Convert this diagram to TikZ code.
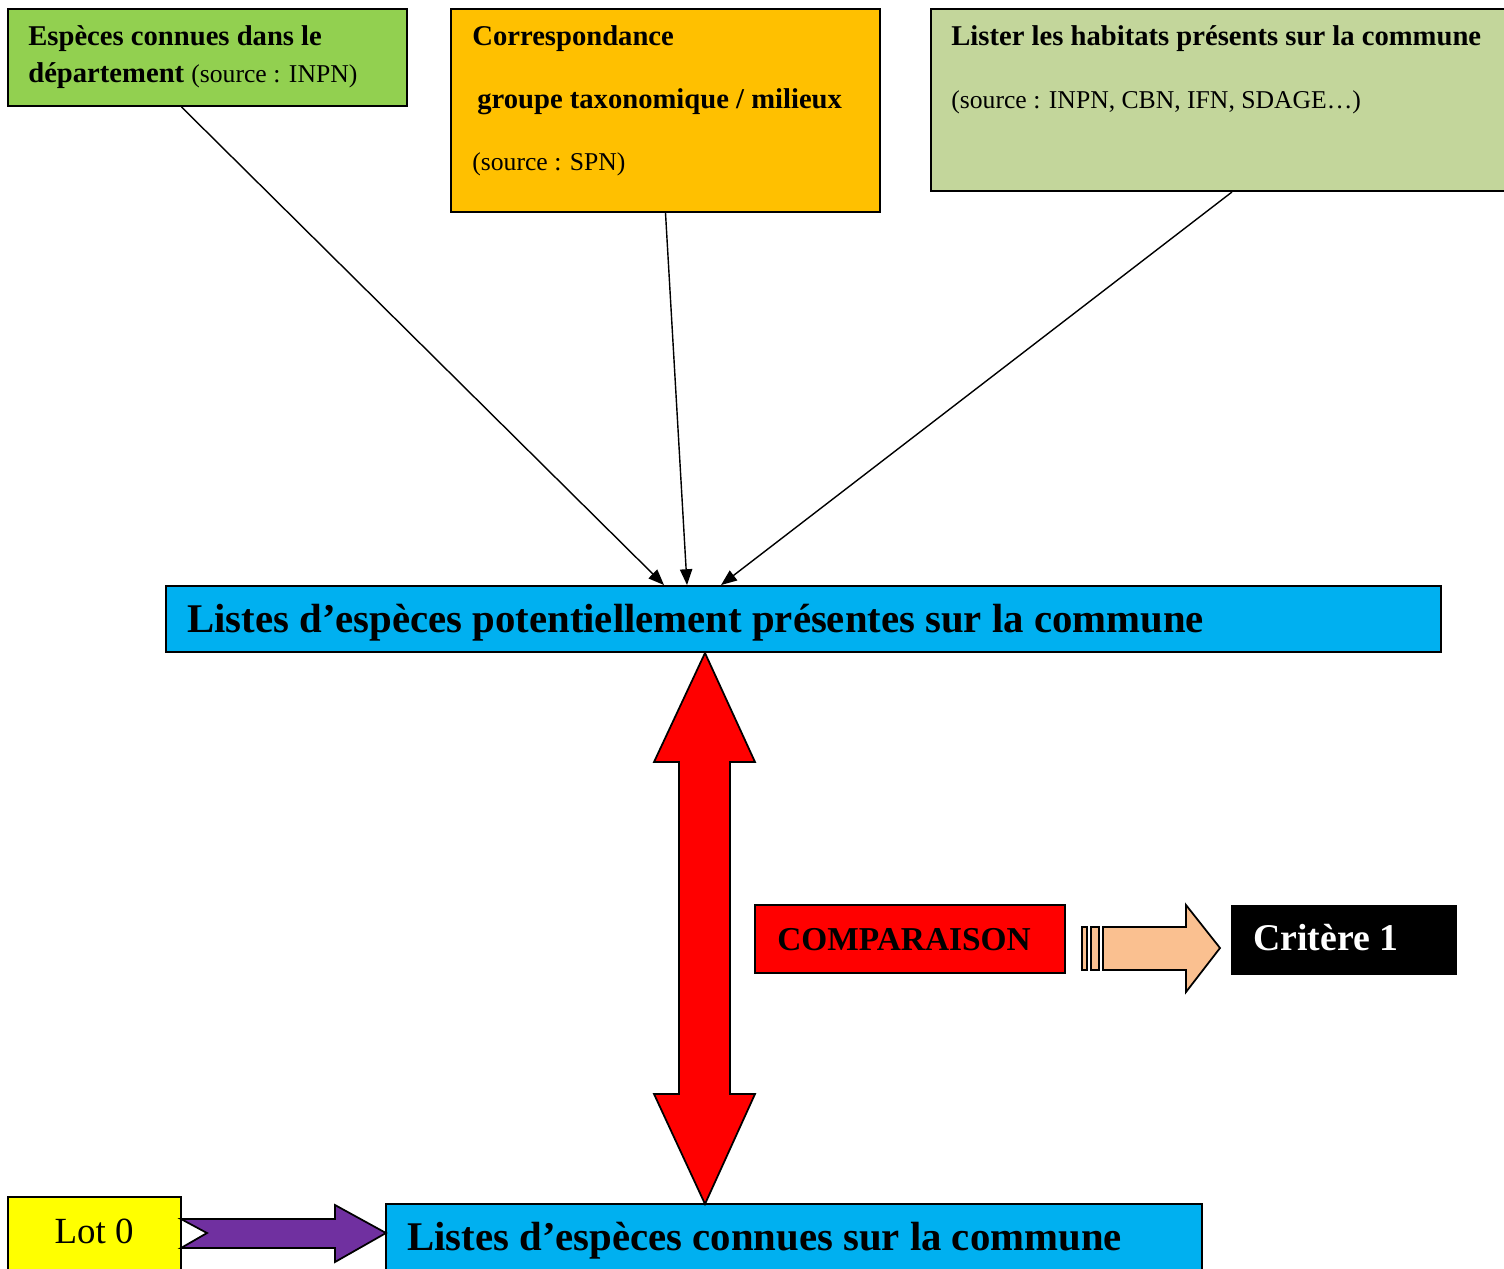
\documentclass[tikz,border=0pt]{standalone}
\usepackage{fontspec}
\setmainfont{Liberation Serif}
\usetikzlibrary{positioning, calc, arrows.meta, fit}

\definecolor{vertvif}{HTML}{92D050}
\definecolor{orangeSPN}{HTML}{FFC000}
\definecolor{vertpale}{HTML}{C3D69B}
\definecolor{bleuliste}{HTML}{00B0F0}
\definecolor{jaunelot}{HTML}{FFFF00}
\definecolor{violetlot}{HTML}{7030A0}
\definecolor{peche}{HTML}{FAC090}

\newcommand\bsz{\fontsize{16.3pt}{20pt}\selectfont}
\newcommand\rsz{\fontsize{14.6pt}{18pt}\selectfont}
\newcommand\gsz{\fontsize{23.2pt}{27pt}\selectfont}

\tikzset{
    box/.style={draw=black, line width=1.1pt, inner sep=0pt},
    txt/.style={anchor=base west, inner sep=0pt},
    flow/.style={-{Triangle[length=9pt,width=7pt]}, line width=0.8pt},
    block/.style={draw=black, line width=1pt, line join=miter},
}

\begin{document}
\begin{tikzpicture}[x=0.02cm, y=-0.02cm]
    \useasboundingbox (0,0) rectangle (1504,1268);
    \clip (0,0) rectangle (1504,1268);
    % boites sources
    \coordinate (d1) at (8,9);      \coordinate (d2) at (407,106);
    \coordinate (c1) at (451,9);    \coordinate (c2) at (880,212);
    \coordinate (h1) at (931,9);    \coordinate (h2) at (1533,191);
    \node[box, fill=vertvif, fit=(d1)(d2)] (dept) {};
    \node[box, fill=orangeSPN, fit=(c1)(c2)] (corresp) {};
    \node[box, fill=vertpale, fit=(h1)(h2)] (habitats) {};
    \node[txt] (deptA) at (28,45) {\bsz\bfseries Espèces connues dans le};
    \node[txt] (deptB) at (28,82) {\bsz\textbf{département} {\rsz(source : INPN)}};
    \node[txt] (corrA) at (472,45) {\bsz\bfseries Correspondance};
    \node[txt] (corrB) at (477,108) {\bsz\bfseries groupe taxonomique / milieux};
    \node[txt] (corrC) at (472,170) {\rsz(source : SPN)};
    \node[txt] (habA) at (951,45) {\bsz\bfseries Lister les habitats présents sur la commune};
    \node[txt] (habB) at (951,108) {\rsz(source : INPN, CBN, IFN, SDAGE…)};
    % listes
    \coordinate (p1) at (166,586);  \coordinate (p2) at (1441,652);
    \coordinate (k1) at (386,1204); \coordinate (k2) at (1202,1275);
    \coordinate (l1) at (8,1197);   \coordinate (l2) at (181,1275);
    \node[box, fill=bleuliste, fit=(p1)(p2)] (potent) {};
    \node[box, fill=bleuliste, fit=(k1)(k2)] (connues) {};
    \node[box, fill=jaunelot, fit=(l1)(l2)] (lot) {};
    \node[txt] (potentT) at (187,632) {\gsz\bfseries Listes d’espèces potentiellement présentes sur la commune};
    \node[txt] (connuesT) at (407,1250) {\gsz\bfseries Listes d’espèces connues sur la commune};
    \node[anchor=base, inner sep=0pt] (lotT) at (94,1243) {\fontsize{21pt}{25pt}\selectfont Lot 0};
    % comparaison
    \coordinate (m1) at (755,905);  \coordinate (m2) at (1065,973);
    \coordinate (r1) at (1231,905); \coordinate (r2) at (1456,974);
    \node[box, line width=0.8pt, fill=red, fit=(m1)(m2)] (compar) {};
    \node[box, line width=0.5pt, fill=black, fit=(r1)(r2)] (critere) {};
    \node[txt] (comparT) at (777,950) {\fontsize{19pt}{23pt}\selectfont\bfseries COMPARAISON};
    \node[txt, text=white] (critereT) at (1253,950) {\fontsize{21.5pt}{25pt}\selectfont\bfseries Critère 1};
    % fleches fines
    \coordinate (in1) at ($(potent.north west)+(499,0)$);
    \coordinate (in2) at ($(potent.north west)+(522,0)$);
    \coordinate (in3) at ($(potent.north west)+(556,0)$);
    \draw[flow] ($(dept.south)+(-26,0)$) -- (in1);
    \draw[flow] (corresp.south) -- (in2);
    \draw[flow] (habitats.south) -- (in3);
    % fleches pleines
    \draw[block, fill=red] (705,653) -- (755,762) -- (730,762) -- (730,1094) -- (755,1094)
        -- (705,1204) -- (654,1094) -- (679,1094) -- (679,762) -- (654,762) -- cycle;
    \draw[block, fill=peche] (1082,927) rectangle (1087,970);
    \draw[block, fill=peche] (1091,927) rectangle (1099,970);
    \draw[block, fill=peche] (1103,927) -- (1186,927) -- (1186,905) -- (1220,948)
        -- (1186,992) -- (1186,970) -- (1103,970) -- cycle;
    \draw[block, fill=violetlot] (181,1219) -- (335,1219) -- (335,1205) -- (386,1233)
        -- (335,1262) -- (335,1248) -- (181,1248) -- (207,1233) -- cycle;
\end{tikzpicture}
\end{document}
